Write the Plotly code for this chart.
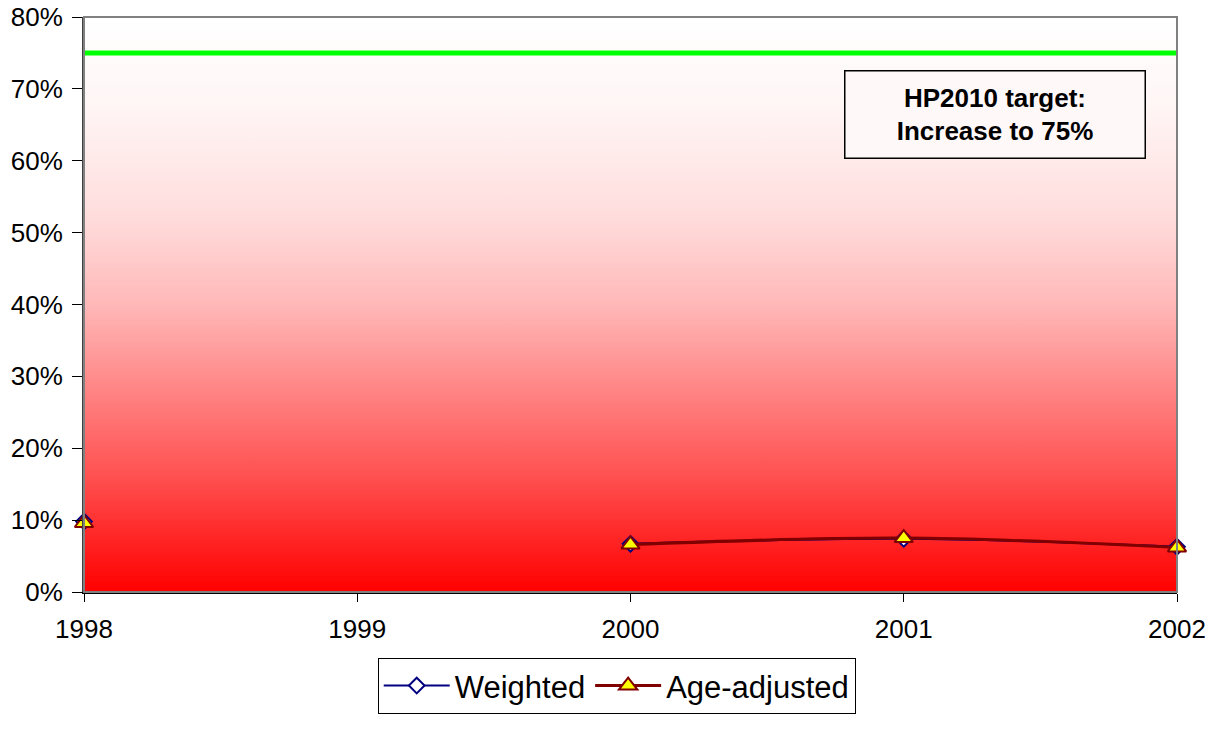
import plotly.graph_objects as go

# ── Data ─────────────────────────────────────────────
years = [1998, 1999, 2000, 2001, 2002]
weighted = [0.098, None, 0.067, 0.074, 0.063]
age_adjusted = [0.096, None, 0.066, 0.075, 0.062]
target = 0.75
y_ticks = [0, 0.1, 0.2, 0.3, 0.4, 0.5, 0.6, 0.7, 0.8]
y_range = [0, 0.8]

FONT = "Arial, Liberation Sans, sans-serif"

fig = go.Figure()

# ── Background gradient (red at bottom → white at top) ──
fig.add_trace(go.Scatter(
    x=[years[0], years[-1], years[-1], years[0], years[0]],
    y=[y_range[0], y_range[0], y_range[1], y_range[1], y_range[0]],
    mode="lines",
    line=dict(width=0),
    fill="toself",
    fillgradient=dict(
        type="vertical",
        colorscale=[
            [0.0, "#ff0000"], [0.2, "#ff5050"], [0.35, "#ff8484"],
            [0.5, "#ffb8b8"], [0.65, "#ffdcdc"], [0.85, "#fff6f6"],
            [1.0, "#ffffff"],
        ],
    ),
    hoverinfo="skip",
    showlegend=False,
))

# ── Target line ──────────────────────────────────────
fig.add_trace(go.Scatter(
    x=[years[0], years[-1]],
    y=[target, target],
    mode="lines",
    line=dict(color="#00ff00", width=5),
    hoverinfo="skip",
    showlegend=False,
))

# ── Series ───────────────────────────────────────────
fig.add_trace(go.Scatter(
    x=years, y=weighted, name="Weighted",
    mode="lines+markers",
    line=dict(color="#000080", width=2, shape="spline"),
    marker=dict(symbol="diamond", size=12, color="white",
                line=dict(color="#000080", width=2)),
    connectgaps=False,
    cliponaxis=False,
))
fig.add_trace(go.Scatter(
    x=years, y=age_adjusted, name="Age-adjusted",
    mode="lines+markers",
    line=dict(color="#800000", width=3, shape="spline"),
    marker=dict(symbol="triangle-up", size=16, color="#ffff00",
                line=dict(color="#800000", width=2)),
    connectgaps=False,
    cliponaxis=False,
))

# ── Annotation box ───────────────────────────────────
fig.add_annotation(
    x=0.8335, y=0.831, xref="paper", yref="paper",
    xanchor="center", yanchor="middle",
    text="<b>HP2010 target:<br>Increase to 75%</b>",
    showarrow=False,
    font=dict(family=FONT, size=26, color="black"),
    align="center",
    bordercolor="black", borderwidth=1.5, borderpad=0,
    bgcolor="rgba(255,248,248,1)",
    width=299, height=86,
)

# ── Plot border (top / right gray) ───────────────────
fig.add_shape(type="rect", xref="x domain", yref="y domain",
              x0=0, x1=1, y0=0, y1=1,
              line=dict(color="#808080", width=2), layer="above")

fig.update_layout(
    width=1217, height=729,
    margin=dict(l=84, r=40, t=17, b=137),
    paper_bgcolor="white",
    plot_bgcolor="white",
    font=dict(family=FONT, size=26, color="black"),
    legend=dict(
        orientation="h",
        x=0.4874, xanchor="center",
        y=-0.212, yanchor="bottom",
        font=dict(size=31),
        bordercolor="black", borderwidth=1,
        itemwidth=66,
    ),
)

fig.update_xaxes(
    range=[years[0], years[-1]],
    tickvals=years,
    ticktext=[str(y) for y in years],
    showgrid=False, zeroline=False,
    showline=True, linecolor="black", linewidth=2,
    ticks="outside", ticklen=8, tickcolor="black",
    ticklabelstandoff=5,
    automargin=False,
)
fig.update_yaxes(
    range=y_range,
    tickvals=y_ticks,
    tickformat=".0%",
    showgrid=False, zeroline=False,
    showline=True, linecolor="#404040", linewidth=2,
    ticks="outside", ticklen=10, tickcolor="black",
    ticklabelstandoff=4,
    ticklabeloverflow="allow",
    automargin=False,
)

# drop the default page margin so the figure sits at the top-left corner
fig.write_html(
    "out.html",
    config={"displayModeBar": False},
    post_script="document.body.style.margin='0';",
)
